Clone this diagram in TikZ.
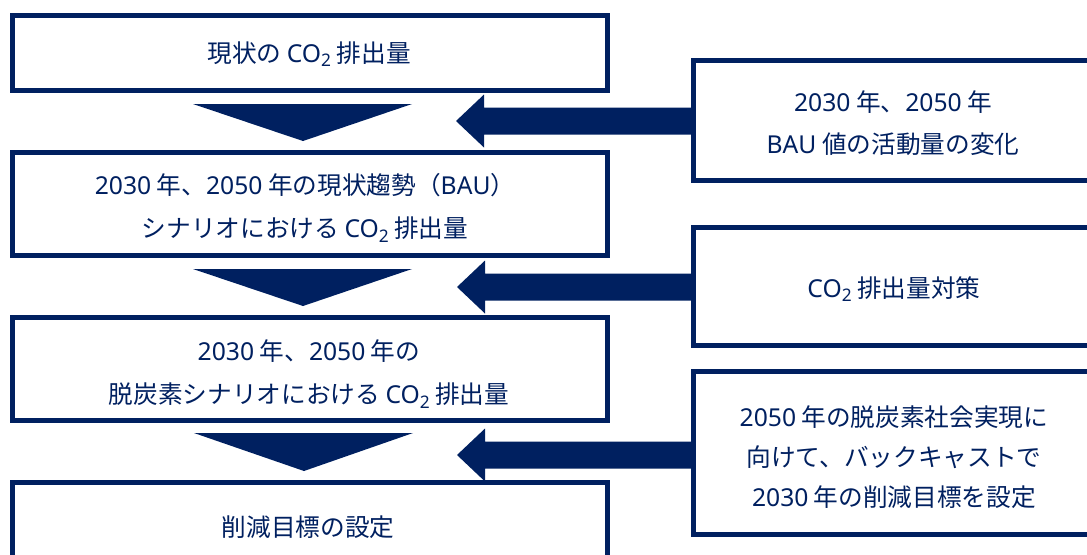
\documentclass[tikz,border=0pt]{standalone}
\usepackage{fontspec}
\setmainfont{Noto Sans CJK JP}
\newfontfamily\latfont{Noto Sans}
\newcommand\lat[1]{{\latfont #1}}
\definecolor{navy}{RGB}{0,32,96}
\newcommand\cotwo{{\latfont CO\raisebox{-0.35ex}{\fontsize{13pt}{13pt}\selectfont 2}}}
\tikzset{
  boxline/.style={draw=navy,line width=3.6pt,fill=white},
  lbl/.style={text=navy,align=center,font=\fontsize{18.5pt}{32pt}\selectfont,inner sep=0pt},
  lblr/.style={lbl,font=\fontsize{18.5pt}{30pt}\selectfont},
  flow/.style={fill=navy,draw=none}
}
\begin{document}
\begin{tikzpicture}[x=0.75pt,y=-0.75pt]
\useasboundingbox (0,0) rectangle (1087,554);
\clip (0,0) rectangle (1087,554);
% left boxes
\draw[boxline] (12.5,15.5) rectangle (607.5,90.5);
\draw[boxline] (12.5,152.5) rectangle (607.5,255.5);
\draw[boxline] (12.5,317.5) rectangle (607.5,420.5);
\draw[boxline] (12.5,482.5) rectangle (607.5,620);
% right boxes
\draw[boxline] (693.5,60.5) rectangle (1100,180.5);
\draw[boxline] (693.5,227.5) rectangle (1100,345.5);
\draw[boxline] (693.5,371.5) rectangle (1100,534.5);
% down triangles
\coordinate (t1a) at (193,104); \coordinate (t1b) at (412,104); \coordinate (t1c) at (303,141);
\coordinate (t2a) at (193,269); \coordinate (t2b) at (412,269); \coordinate (t2c) at (303,306);
\coordinate (t3a) at (194,433); \coordinate (t3b) at (413,433); \coordinate (t3c) at (304,471);
\fill[flow] (t1a) -- (t1b) -- (t1c) -- cycle;
\fill[flow] (t2a) -- (t2b) -- (t2c) -- cycle;
\fill[flow] (t3a) -- (t3b) -- (t3c) -- cycle;
% left arrows
\coordinate (a1) at (456,121);
\coordinate (a2) at (457,287);
\coordinate (a3) at (457,455);
\foreach \c in {a1,a2,a3}{
  \fill[flow] ([shift={(237,-13.5)}]\c) -- ([shift={(28,-13.5)}]\c) -- ([shift={(28,-26.5)}]\c)
    -- (\c) -- ([shift={(28,26.5)}]\c) -- ([shift={(28,13.5)}]\c) -- ([shift={(237,13.5)}]\c) -- cycle;
}
% texts
\node[lbl] (n1) at (309,54) {現状の \cotwo{} 排出量};
\node[lbl] (n2) at (305,208) {\lat{2030} 年、\lat{2050} 年の現状趨勢（\lat{BAU}）\\シナリオにおける \cotwo{} 排出量};
\node[lbl] (n3) at (309,374) {\lat{2030} 年、\lat{2050} 年の\\脱炭素シナリオにおける \cotwo{} 排出量};
\node[lbl] (n4) at (308,527) {削減目標の設定};
\node[lbl] (r1) at (893,123) {\lat{2030} 年、\lat{2050} 年\\\lat{BAU} 値の活動量の変化};
\node[lbl] (r2) at (894,289) {\cotwo{} 排出量対策};
\node[lblr] (r3) at (894,457) {\lat{2050} 年の脱炭素社会実現に\\向けて、バックキャストで\\\lat{2030} 年の削減目標を設定};
\end{tikzpicture}
\end{document}
